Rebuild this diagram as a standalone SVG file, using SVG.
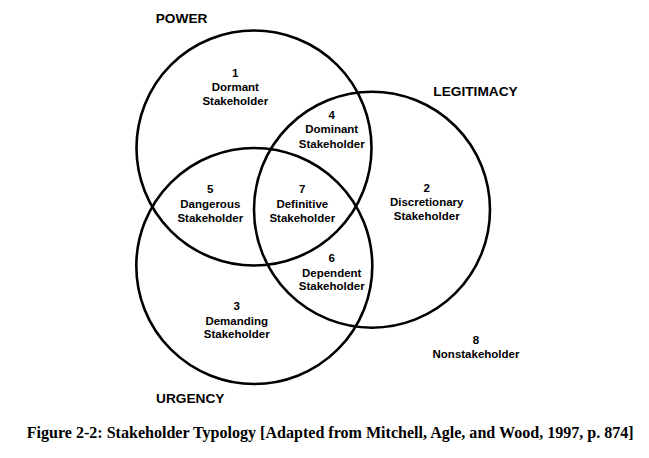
<svg xmlns="http://www.w3.org/2000/svg" width="649" height="458" viewBox="0 0 649 458">
<style>
.c{fill:none;stroke:#000;stroke-width:2.6}
.t{font-family:"Liberation Sans",Arial,sans-serif;font-weight:bold;font-size:11.5px;text-anchor:middle;fill:#000}
.h{font-family:"Liberation Sans",Arial,sans-serif;font-weight:bold;font-size:13.7px;fill:#000}
.cap{font-family:"Liberation Serif","Times New Roman",serif;font-weight:bold;font-size:16px;fill:#000}
</style>
<rect width="649" height="458" fill="#fff"/>
<g id="connectors">
<circle id="power" class="c" cx="254" cy="148" r="117.5"/>
<circle id="legitimacy" class="c" cx="372" cy="209.7" r="118"/>
<circle id="urgency" class="c" cx="254.3" cy="266" r="118"/>
</g>
<g id="labels">
<text class="h" x="155.7" y="23.2">POWER</text>
<text class="h" x="433.3" y="95.5">LEGITIMACY</text>
<text class="h" x="156" y="403.2">URGENCY</text>
</g>
<g id="n1"><text class="t" x="235.3" y="76.8">1</text><text class="t" x="235.3" y="91.4">Dormant</text><text class="t" x="235.3" y="104.8">Stakeholder</text></g>
<g id="n4"><text class="t" x="331.7" y="119.2">4</text><text class="t" x="331.7" y="133.2">Dominant</text><text class="t" x="331.7" y="147.5">Stakeholder</text></g>
<g id="n5"><text class="t" x="210.3" y="193.2">5</text><text class="t" x="210.3" y="207.5">Dangerous</text><text class="t" x="210.3" y="221.5">Stakeholder</text></g>
<g id="n7"><text class="t" x="302.3" y="193.2">7</text><text class="t" x="302.3" y="207.5">Definitive</text><text class="t" x="302.3" y="221.5">Stakeholder</text></g>
<g id="n2"><text class="t" x="426.7" y="191.5">2</text><text class="t" x="426.7" y="206.4">Discretionary</text><text class="t" x="426.7" y="220.2">Stakeholder</text></g>
<g id="n6"><text class="t" x="331.7" y="261.9">6</text><text class="t" x="331.7" y="276.5">Dependent</text><text class="t" x="331.7" y="290.2">Stakeholder</text></g>
<g id="n3"><text class="t" x="236.7" y="309.9">3</text><text class="t" x="236.7" y="324.5">Demanding</text><text class="t" x="236.7" y="338.2">Stakeholder</text></g>
<g id="n8"><text class="t" x="476" y="343.5">8</text><text class="t" x="476" y="358.2">Nonstakeholder</text></g>
<g id="caption"><text class="cap" x="26.7" y="437.7" textLength="607" lengthAdjust="spacingAndGlyphs">Figure 2-2: Stakeholder Typology [Adapted from Mitchell, Agle, and Wood, 1997, p. 874]</text></g>
</svg>
